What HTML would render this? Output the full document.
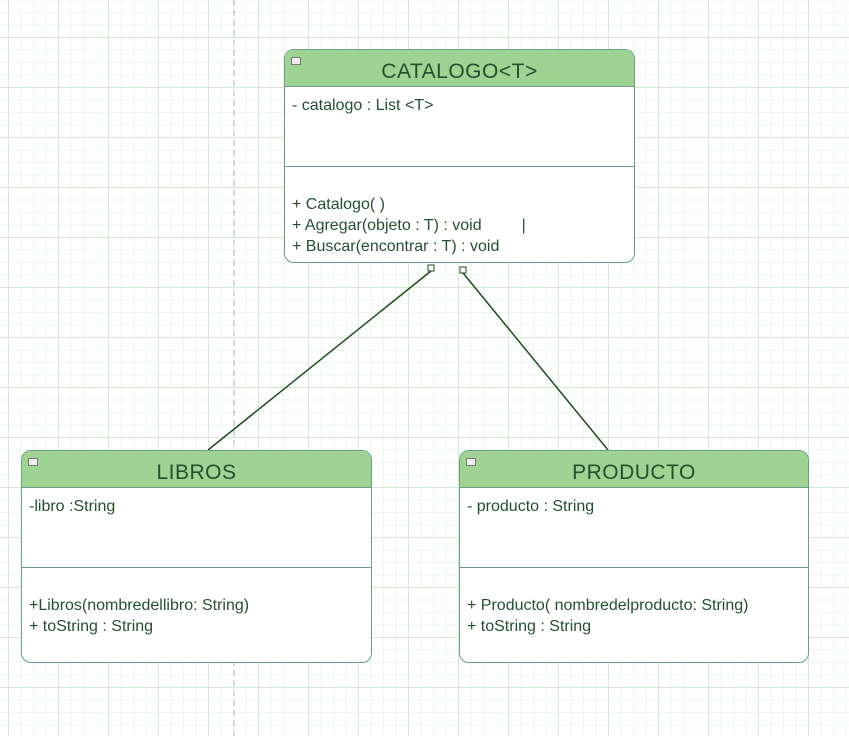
<!DOCTYPE html>
<html><head><style>
body{margin:0;width:849px;height:736px;overflow:hidden;background:#fff;
background-image:
linear-gradient(to right,#d5e8d4 1px,transparent 1px),
linear-gradient(to bottom,#d5e8d4 1px,transparent 1px),
linear-gradient(to right,#eef5ee 1px,transparent 1px),
linear-gradient(to bottom,#eef5ee 1px,transparent 1px);
background-size:50px 50px,50px 50px,12.5px 12.5px,12.5px 12.5px;
background-position:8px 37px,8px 37px,8px 37px,8px 37px;
font-family:"Comic Sans MS","Liberation Sans",sans-serif;color:#24502e;position:relative}
.dash{position:absolute;left:233px;top:0;height:736px;border-left:2px dashed #ccd;opacity:.8}
.box{position:absolute;border:1px solid #6a9f88;border-radius:10px;background:#fff;overflow:hidden;box-sizing:border-box}
.hd{background:#9ed394;border-bottom:1px solid #6a9f88;height:37px;box-sizing:border-box;text-align:center;font-size:21px;line-height:44px;position:relative;letter-spacing:0.5px}
.hd:before{content:"";position:absolute;left:6px;top:7px;width:8px;height:6px;border:1px solid #777;background:#eee}
.at{height:80px;border-bottom:1px solid #6a9f88;box-sizing:border-box;padding:10px 0 0 7px;font-size:16px}
.op{padding:0 0 0 7px;font-size:16px;line-height:21px}
</style></head><body>
<div class="dash"></div>
<svg width="849" height="736" style="position:absolute;left:0;top:0">
<line x1="431" y1="271" x2="208" y2="450" stroke="#1e4d1e" stroke-width="1.5"/>
<line x1="463" y1="273" x2="608" y2="450" stroke="#1e4d1e" stroke-width="1.5"/>
<rect x="428" y="265" width="6" height="6" fill="#fff" stroke="#1e4d1e"/>
<rect x="460" y="267" width="6" height="6" fill="#fff" stroke="#1e4d1e"/>
</svg>
<div class="box" style="left:284px;top:49px;width:351px;height:214px">
<div class="hd">CATALOGO&lt;T&gt;</div>
<div class="at">- catalogo : List &lt;T&gt;</div>
<div class="op" style="padding-top:27px">+ Catalogo( )<br>+ Agregar(objeto : T) : void &nbsp;&nbsp;&nbsp;&nbsp;&nbsp;&nbsp;&nbsp; |<br>+ Buscar(encontrar : T) : void</div>
</div>
<div class="box" style="left:21px;top:450px;width:351px;height:213px">
<div class="hd">LIBROS</div>
<div class="at">-libro :String</div>
<div class="op" style="padding-top:27px">+Libros(nombredellibro: String)<br>+ toString : String</div>
</div>
<div class="box" style="left:459px;top:450px;width:350px;height:213px">
<div class="hd">PRODUCTO</div>
<div class="at">- producto : String</div>
<div class="op" style="padding-top:27px">+ Producto( nombredelproducto: String)<br>+ toString : String</div>
</div>
</body></html>
